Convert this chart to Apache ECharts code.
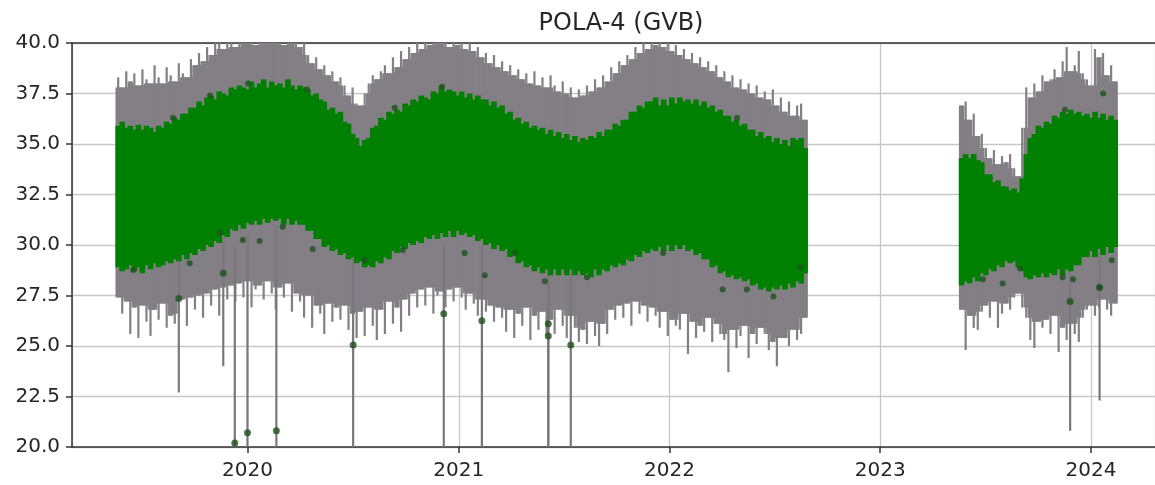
<!DOCTYPE html>
<html>
<head>
<meta charset="utf-8">
<title>POLA-4 (GVB)</title>
<script src="https://cdn.jsdelivr.net/npm/echarts@6/dist/echarts.min.js"></script>
<style>
  html, body { margin: 0; padding: 0; background: #fff; }
  #chart { width: 1155px; height: 485px; }
</style>
</head>
<body>
<div id="chart"></div>
<script>
// Weekly samples: first block starts 2019-05-22, second block 2023-05-22.
const seg1Start = '2019-05-22';
const seg2Start = '2023-05-22';
const stepDays = 7;

// Upper / lower reach of the green points and of the grey error bars per week.
const seg1GreenHi = [
  35.9, 36.1, 35.8, 35.9, 35.7, 35.95, 35.7, 35.9, 35.8, 35.6,
  35.9, 35.8, 36.1, 36.0, 36.3, 36.2, 36.5, 36.5, 36.8, 36.8,
  37.1, 36.9, 37.3, 37.4, 37.2, 37.6, 37.5, 37.4, 37.8, 37.7,
  37.9, 37.8, 37.7, 38.1, 37.8, 38.0, 38.2, 37.8, 38.1, 37.9,
  38.0, 37.8, 38.2, 37.9, 37.7, 37.9, 37.8, 37.7, 37.4, 37.5,
  37.2, 37.1, 36.7, 36.8, 36.5, 36.6, 36.1, 36.0, 35.5, 35.3,
  34.9, 35.2, 35.3, 35.8, 35.9, 36.3, 36.2, 36.6, 36.5, 36.7,
  36.6, 37.0, 36.9, 37.2, 37.1, 37.4, 37.3, 37.2, 37.6, 37.5,
  37.9, 37.6, 37.7, 37.6, 37.4, 37.6, 37.3, 37.5, 37.2, 37.4,
  37.2, 37.2, 36.9, 37.1, 36.8, 36.9, 36.5, 36.6, 36.2, 36.3,
  36.0, 36.1, 35.8, 35.9, 35.7, 35.8, 35.5, 35.7, 35.4, 35.6,
  35.3, 35.5, 35.2, 35.4, 35.1, 35.3, 35.2, 35.4, 35.3, 35.6,
  35.4, 35.7, 35.7, 36.0, 35.9, 36.2, 36.2, 36.6, 36.6, 36.9,
  36.8, 37.1, 37.1, 37.3, 36.9, 37.2, 36.9, 37.3, 37.0, 37.3,
  37.1, 37.2, 37.0, 37.2, 36.9, 37.1, 36.8, 36.9, 36.6, 36.7,
  36.4, 36.4, 36.1, 36.2, 35.9, 36.0, 35.7, 35.7, 35.4, 35.6,
  35.3, 35.4, 35.1, 35.3, 35.0, 35.2, 34.9, 35.3, 35.2, 35.3,
  34.8
];
const seg1GreenLo = [
  28.9, 28.7, 28.8, 29.0, 28.7, 28.9, 28.6, 29.0, 28.8, 29.1,
  28.9, 29.0, 29.2, 29.1, 29.3, 29.2, 29.5, 29.3, 29.6, 29.5,
  29.8, 29.7, 30.0, 29.9, 30.2, 30.1, 30.5, 30.4, 30.8, 30.7,
  31.0, 30.8, 31.1, 31.0, 31.2, 31.0, 31.3, 31.1, 31.3, 31.2,
  31.3, 31.0, 31.3, 31.0, 31.2, 31.0, 31.0, 30.7, 30.7, 30.3,
  30.3, 29.9, 30.0, 29.7, 29.8, 29.5, 29.6, 29.3, 29.4, 29.1,
  29.2, 28.9, 29.0, 28.9, 29.2, 29.1, 29.4, 29.3, 29.7, 29.6,
  29.9, 29.8, 30.1, 30.0, 30.2, 30.1, 30.4, 30.3, 30.5, 30.3,
  30.6, 30.4, 30.7, 30.4, 30.7, 30.5, 30.6, 30.4, 30.5, 30.2,
  30.3, 30.0, 30.1, 29.8, 30.0, 29.7, 29.8, 29.4, 29.5, 29.1,
  29.2, 28.9, 29.0, 28.7, 28.9, 28.6, 28.8, 28.5, 28.8, 28.5,
  28.8, 28.5, 28.8, 28.5, 28.7, 28.5, 28.6, 28.4, 28.8, 28.5,
  28.8, 28.7, 29.0, 28.9, 29.1, 29.0, 29.3, 29.2, 29.5, 29.4,
  29.7, 29.6, 29.8, 29.7, 29.9, 29.7, 30.0, 29.7, 30.0, 29.8,
  30.0, 29.7, 29.8, 29.5, 29.6, 29.3, 29.3, 28.9, 29.0, 28.6,
  28.7, 28.4, 28.5, 28.3, 28.4, 28.2, 28.3, 28.0, 28.1, 27.8,
  27.9, 27.7, 27.9, 27.8, 28.0, 27.8, 28.1, 27.9, 28.2, 28.1,
  28.6
];
const seg1GreyHi = [
  38.3, 37.8, 38.6, 38.1, 38.5, 37.9, 38.7, 38.2, 38.0, 38.9,
  38.3, 38.0, 38.8, 38.4, 38.1, 39.0, 38.5, 38.3, 39.2, 38.9,
  39.5, 39.1, 39.8, 39.4, 40.0, 40.2, 39.7, 40.3, 40.1, 39.8,
  40.4, 40.1, 40.0, 40.3, 39.9, 40.2, 40.4, 40.0, 40.3, 40.1,
  40.2, 39.9, 40.3, 40.0, 40.2, 39.8, 40.1, 39.4, 39.0, 39.3,
  38.7, 38.9, 38.4, 38.6, 38.1, 38.3, 37.9, 37.4, 37.8, 37.0,
  36.9, 37.5, 38.0, 38.4, 38.2, 38.6, 38.9, 38.5, 39.3, 38.8,
  39.6, 39.2, 39.8, 39.5, 40.1, 39.7, 40.3, 39.9, 40.2, 40.4,
  40.0, 40.3, 39.8, 40.2, 39.9, 40.3, 39.7, 40.0, 39.6, 39.8,
  39.3, 39.5, 39.0, 39.4, 38.8, 39.1, 38.6, 38.9, 38.4, 38.7,
  38.2, 38.5, 38.0, 38.6, 37.9, 38.3, 37.8, 38.4, 37.9, 37.6,
  38.1, 37.5, 37.8, 37.3, 37.7, 37.4, 37.9, 37.6, 38.2, 37.8,
  38.4, 38.1, 38.8, 38.5, 39.1, 38.9, 39.4, 39.2, 39.8, 39.5,
  40.1, 39.7, 40.3, 39.9, 40.2, 39.8, 40.3, 39.6, 39.9, 39.4,
  39.7, 39.2, 39.5, 39.0, 39.3, 38.8, 39.1, 38.6, 38.9, 38.3,
  38.6, 38.1, 38.4, 37.8, 38.2, 37.7, 38.0, 37.5, 37.9, 37.3,
  37.6, 37.2, 37.7, 36.9, 37.3, 36.6, 37.1, 36.4, 36.9, 37.0,
  36.2
];
const seg1GreyLo = [
  27.4, 26.6, 27.2, 25.6, 26.9, 25.4, 27.0, 26.2, 25.5, 26.8,
  26.3, 27.1, 25.9, 26.5, 26.1, 26.6, 27.3, 26.0, 27.4, 26.8,
  27.5, 26.4, 27.6, 27.0, 27.8, 26.5, 27.9, 27.3, 28.0, 27.2,
  28.1, 27.4, 28.2, 26.9, 27.8, 28.0, 27.3, 28.2, 27.6, 26.8,
  27.9, 27.4, 28.1, 26.7, 27.6, 27.2, 26.4, 27.5, 25.9, 27.0,
  26.6, 25.6, 27.1, 26.2, 26.9, 26.3, 27.0, 25.8, 26.6, 25.4,
  26.7, 25.5, 26.9, 26.0, 25.3, 26.8, 25.6, 27.2, 26.1, 26.9,
  25.7, 27.3, 26.5, 27.6, 26.9, 27.8, 27.0, 27.9, 26.6, 27.5,
  27.7, 26.9, 27.8, 27.2, 27.9, 27.4, 26.8, 27.6, 27.1, 26.5,
  27.3, 26.7, 27.0, 26.2, 26.9, 26.4, 25.7, 26.8, 25.4, 26.6,
  26.0, 26.9, 25.3, 26.5, 25.8, 26.7, 25.5, 26.3, 25.6, 26.8,
  26.0, 25.4, 26.5, 25.9, 25.2, 25.8, 25.1, 26.2, 25.5, 25.0,
  26.1, 25.6, 26.8, 26.3, 27.0, 26.4, 27.1, 26.0, 27.2, 26.6,
  27.0, 26.2, 26.9, 26.5, 25.9, 26.7, 25.5, 26.3, 26.0, 25.8,
  26.6, 24.6, 26.2, 25.4, 26.0, 25.7, 26.4, 25.2, 26.1, 25.6,
  25.3, 23.7, 25.8, 24.9, 25.5, 26.0, 24.4, 25.6, 25.1, 25.9,
  25.6, 24.8, 25.2, 24.0, 25.4, 25.4, 25.0, 25.8, 25.3, 25.6,
  26.4
];

const seg2GreenHi = [
  34.3, 34.5, 34.3, 34.5, 34.2, 34.1, 33.5, 33.5, 33.1, 33.2,
  32.9, 32.9, 32.7, 32.8, 32.6, 33.3, 34.5, 35.3, 35.5, 35.9,
  35.8, 36.1, 36.0, 36.4, 36.3, 36.6, 36.5, 36.7, 36.5, 36.6,
  36.4, 36.5, 36.3, 36.6, 36.3, 36.5, 36.2, 36.4, 36.2
];
const seg2GreenLo = [
  28.0, 28.2, 28.1, 28.4, 28.2, 28.6, 28.5, 28.8, 28.7, 29.0,
  28.9, 29.2, 29.1, 29.2, 28.9, 28.7, 28.4, 28.3, 28.5, 28.4,
  28.6, 28.4, 28.6, 28.5, 28.8, 28.5, 28.8, 28.7, 29.0, 29.0,
  29.4, 29.4, 29.7, 29.4, 29.8, 29.5, 29.9, 29.6, 29.9
];
const seg2GreyHi = [
  36.9, 37.1, 36.2, 36.5, 35.4, 35.5, 34.8, 34.3, 34.7, 34.0,
  34.4, 34.1, 34.5, 33.8, 33.4, 35.8, 37.8, 37.3, 38.0, 37.6,
  38.4, 38.1, 38.2, 38.7, 38.3, 39.1, 39.8, 38.6, 38.9, 39.6,
  38.5, 38.2, 37.9, 39.7, 39.3, 39.5, 38.4, 38.9, 38.1
];
const seg2GreyLo = [
  26.8, 24.8, 26.5, 25.9, 25.8, 26.7, 27.0, 26.4, 27.2, 25.9,
  26.6, 27.1, 26.8, 27.4, 27.6, 26.9, 26.4, 25.3, 24.9, 26.2,
  25.9, 26.3, 25.6, 26.5, 24.7, 25.9, 25.3, 26.1, 25.6, 25.2,
  26.4, 26.8, 27.0, 26.5, 26.9, 27.3, 26.8, 26.5, 27.1
];

// Isolated low readings: point value and the extent of their error bar.
const lowDates = ['2019-09-04', '2019-11-20', '2019-12-10', '2020-01-01', '2020-02-20',
                  '2020-07-02', '2020-12-06', '2021-02-10', '2021-06-05', '2021-06-05',
                  '2021-07-14', '2023-11-26', '2024-01-16'];
const lowValues = [27.35, 28.6, 20.2, 20.7, 20.8, 25.05, 26.6, 26.25, 26.1, 25.5, 25.05, 27.2, 27.9];
const lowBarMin = [22.7, 24.0, 20.0, 20.0, 20.0, 20.0, 20.0, 20.0, 20.0, 20.0, 20.0, 20.8, 22.3];
const lowBarMax = [30.0, 30.5, 30.0, 30.5, 31.0, 29.5, 30.0, 30.0, 29.0, 29.0, 29.0, 29.0, 29.5];

// Scattered points sitting just outside the dense band.
const edgeDates = ['2019-06-17', '2019-08-25', '2019-09-23', '2019-10-28', '2019-11-14',
                   '2019-12-24', '2020-01-02', '2020-01-22', '2020-03-02', '2020-04-13',
                   '2020-04-23', '2020-07-22', '2020-09-12', '2020-09-26', '2020-12-03',
                   '2021-01-11', '2021-02-15', '2021-04-08', '2021-05-30', '2021-08-11',
                   '2021-12-21', '2022-04-03', '2022-04-28', '2022-05-15', '2022-06-30',
                   '2022-08-16', '2023-06-28', '2023-08-01', '2023-08-31', '2023-11-13',
                   '2023-11-17', '2023-12-01', '2024-01-16', '2024-01-22', '2024-02-06'];
const edgeValues = [28.76, 36.3, 29.1, 37.4, 30.6,
                    30.25, 38.0, 30.2, 30.9, 37.7,
                    29.8, 29.25, 36.8, 29.75, 37.84,
                    29.6, 28.5, 29.6, 28.2, 28.4,
                    29.6, 27.8, 36.3, 27.8, 27.45,
                    28.9, 28.3, 28.1, 28.85, 28.4,
                    36.7, 28.3, 27.9, 37.5, 29.25];

const yTicks = [20, 22.5, 25, 27.5, 30, 32.5, 35, 37.5, 40];
const title = 'POLA-4 (GVB)';
const xStart = '2019-03-03';
const xEnd = '2024-04-21';

const DAY = 86400000;
function utc(s) {
  const p = s.split('-').map(Number);
  return Date.UTC(p[0], p[1] - 1, p[2]);
}
function weekly(start, a, b) {
  const t0 = utc(start);
  return a.map((v, i) => [t0 + i * stepDays * DAY, v, b[i]]);
}
// Grey rows also carry the overlap of each bar with its neighbours, so the
// shared part can be filled solid and the individual extremes stand out as spikes.
function greyWeekly(start, lo, hi) {
  const t0 = utc(start);
  const n = lo.length;
  return lo.map((v, i) => {
    const a = Math.max(0, i - 1), b = Math.min(n - 1, i + 1);
    const innerLo = Math.max(lo[a], lo[i], lo[b]);
    const innerHi = Math.min(hi[a], hi[i], hi[b]);
    return [t0 + i * stepDays * DAY, v, hi[i], innerLo, innerHi];
  });
}

const greyRows = greyWeekly(seg1Start, seg1GreyLo, seg1GreyHi).concat(greyWeekly(seg2Start, seg2GreyLo, seg2GreyHi));
const greenRows = weekly(seg1Start, seg1GreenLo, seg1GreenHi).concat(weekly(seg2Start, seg2GreenLo, seg2GreenHi));
const lowBarRows = lowDates.map((d, i) => [utc(d), lowBarMin[i], lowBarMax[i]]);
const lowPointRows = lowDates.map((d, i) => [utc(d), lowValues[i]]);
const edgeRows = edgeDates.map((d, i) => [utc(d), edgeValues[i]]);

function clampY(y, cs) {
  return Math.min(Math.max(y, cs.y), cs.y + cs.height);
}

function verticalBar(color, width) {
  return function (params, api) {
    const cs = params.coordSys;
    const t = api.value(0);
    const a = api.coord([t, api.value(1)]);
    const b = api.coord([t, api.value(2)]);
    return {
      type: 'line',
      shape: { x1: a[0], y1: clampY(a[1], cs), x2: b[0], y2: clampY(b[1], cs) },
      style: { stroke: color, lineWidth: width }
    };
  };
}

function greyBar(color, coreWidth, spikeWidth) {
  return function (params, api) {
    const cs = params.coordSys;
    const t = api.value(0);
    const a = api.coord([t, api.value(1)]);
    const b = api.coord([t, api.value(2)]);
    const c = api.coord([t, api.value(3)]);
    const d = api.coord([t, api.value(4)]);
    const cy1 = clampY(d[1], cs), cy2 = clampY(c[1], cs);
    return {
      type: 'group',
      children: [
        {
          type: 'rect',
          shape: { x: a[0] - coreWidth / 2, y: cy1, width: coreWidth, height: cy2 - cy1 },
          style: { fill: color }
        },
        {
          type: 'line',
          shape: { x1: a[0], y1: clampY(a[1], cs), x2: b[0], y2: clampY(b[1], cs) },
          style: { stroke: color, lineWidth: spikeWidth }
        }
      ]
    };
  };
}

function bandRect(color, width) {
  return function (params, api) {
    const cs = params.coordSys;
    const t = api.value(0);
    const a = api.coord([t, api.value(1)]);
    const b = api.coord([t, api.value(2)]);
    const y1 = clampY(b[1], cs), y2 = clampY(a[1], cs);
    return {
      type: 'rect',
      shape: { x: a[0] - width / 2, y: y1, width: width, height: y2 - y1 },
      style: { fill: color }
    };
  };
}

const FONT = 'DejaVu Sans';
const SPINE = { color: '#333', width: 1.5 };
const GRIDLINE = { color: '#c6c6c6', width: 1.3 };
const chart = echarts.init(document.getElementById('chart'), null, { renderer: 'canvas' });

chart.setOption({
  useUTC: true,
  animation: false,
  backgroundColor: '#ffffff',
  textStyle: { fontFamily: FONT },
  title: {
    text: title,
    left: 616,
    top: 7,
    textAlign: 'center',
    textStyle: { fontFamily: FONT, fontSize: 24, fontWeight: 'normal', color: '#262626' }
  },
  grid: { left: 72, top: 43, width: 1083, height: 404, show: false },
  xAxis: [
    {
      type: 'time',
      min: utc(xStart),
      max: utc(xEnd),
      minInterval: 365 * DAY,
      maxInterval: 366 * DAY,
      axisLine: { show: true, lineStyle: SPINE },
      axisTick: { show: true, length: 6, lineStyle: SPINE },
      axisLabel: {
        fontFamily: FONT, fontSize: 20, color: '#262626', margin: 14,
        formatter: function (v) {
          const d = new Date(v);
          return (d.getUTCMonth() === 0 && d.getUTCDate() === 1) ? String(d.getUTCFullYear()) : '';
        }
      },
      splitLine: { show: true, lineStyle: GRIDLINE }
    },
    {
      // top frame line
      type: 'time',
      position: 'top',
      min: utc(xStart),
      max: utc(xEnd),
      axisLine: { show: true, lineStyle: SPINE },
      axisTick: { show: false },
      axisLabel: { show: false },
      splitLine: { show: false }
    }
  ],
  yAxis: {
    type: 'value',
    min: yTicks[0],
    max: yTicks[yTicks.length - 1],
    interval: 2.5,
    axisLine: { show: true, lineStyle: SPINE },
    axisTick: { show: true, length: 6, lineStyle: SPINE },
    axisLabel: {
      fontFamily: FONT, fontSize: 20, color: '#262626', margin: 12,
      formatter: function (v) { return v.toFixed(1); }
    },
    splitLine: { show: true, lineStyle: GRIDLINE }
  },
  series: [
    {
      name: 'error',
      type: 'custom',
      renderItem: greyBar('#837f85', 5.4, 2.2),
      encode: { x: 0, y: [1, 2] },
      data: greyRows,
      z: 2
    },
    {
      name: 'error low',
      type: 'custom',
      renderItem: verticalBar('#7a767c', 2.2),
      encode: { x: 0, y: [1, 2] },
      data: lowBarRows,
      z: 2
    },
    {
      name: 'value',
      type: 'custom',
      renderItem: bandRect('#008000', 5.6),
      encode: { x: 0, y: [1, 2] },
      data: greenRows,
      z: 3
    },
    {
      name: 'edge points',
      type: 'scatter',
      symbolSize: 6,
      itemStyle: { color: '#1d521d' },
      data: edgeRows,
      z: 4
    },
    {
      name: 'low points',
      type: 'scatter',
      symbolSize: 7,
      itemStyle: { color: '#1d521d' },
      data: lowPointRows,
      z: 4
    }
  ]
});
</script>
</body>
</html>
